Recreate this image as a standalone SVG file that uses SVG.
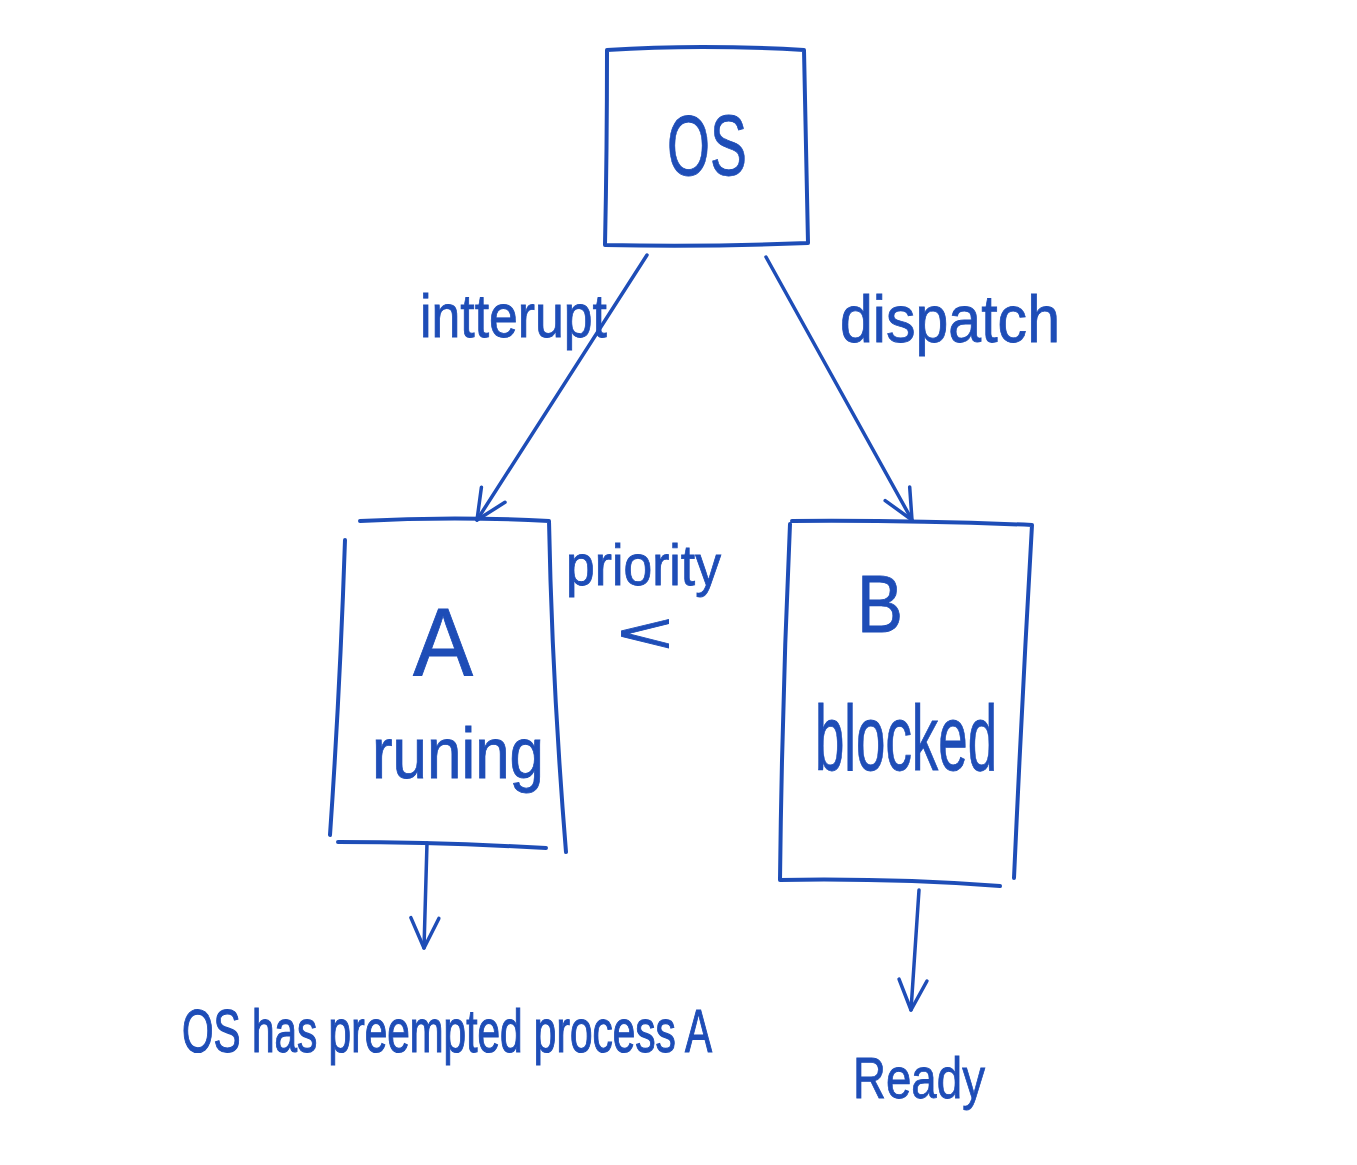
<svg xmlns="http://www.w3.org/2000/svg" width="1357" height="1165" viewBox="0 0 1357 1165">
<style>
.box{fill:none;stroke:#1E4DB7;stroke-width:4;stroke-linejoin:round;stroke-linecap:round}
.con{fill:none;stroke:#1E4DB7;stroke-width:3.5;stroke-linecap:round;stroke-linejoin:round}
.t{fill:#1E4DB7;stroke:#1E4DB7;stroke-width:0.8;font-family:"Liberation Sans Narrow","Liberation Sans",Arial,sans-serif}
</style>
<defs>
<marker id="ahb" viewBox="0 0 40 40" refX="36" refY="20" markerWidth="40" markerHeight="40" markerUnits="userSpaceOnUse" orient="auto">
<path d="M6,6 L36,20 L6,34" fill="none" stroke="#1E4DB7" stroke-width="3.5" stroke-linecap="round" stroke-linejoin="round"/>
</marker>
</defs>
<rect width="1357" height="1165" fill="#ffffff"/>
<g id="connectors">
<path class="con" d="M647,255 L477,520" marker-end="url(#ahb)"/>
<path class="con" d="M766,257 L912,520" marker-end="url(#ahb)"/>
<path class="con" d="M427,843 L424,948" marker-end="url(#ahb)"/>
<path class="con" d="M919,890 L911,1010" marker-end="url(#ahb)"/>
</g>
<g id="node-os">
<path class="box" d="M607,50 Q700,44 804,50 Q806,140 808,243 Q710,247 605,245 Q607,150 607,50 Z"/>
<text class="t" x="707" y="175" font-size="86" text-anchor="middle" textLength="80" lengthAdjust="spacingAndGlyphs">OS</text>
</g>
<g id="label-interrupt">
<text class="t" x="420" y="337" font-size="62" textLength="187" lengthAdjust="spacingAndGlyphs">intterupt</text>
</g>
<g id="label-dispatch">
<text class="t" x="840" y="342" font-size="66" textLength="220" lengthAdjust="spacingAndGlyphs">dispatch</text>
</g>
<g id="node-a">
<path class="box" d="M360,521 Q455,516 549,521 Q552,680 566,852 M546,848 Q440,842 338,842 M330,835 Q340,690 345,540"/>
<text class="t" x="443" y="675" font-size="96" text-anchor="middle" textLength="60" lengthAdjust="spacingAndGlyphs">A</text>
<text class="t" x="372" y="778" font-size="72" textLength="172" lengthAdjust="spacingAndGlyphs">runing</text>
</g>
<g id="label-priority">
<text class="t" x="566" y="585" font-size="58" textLength="155" lengthAdjust="spacingAndGlyphs">priority</text>
<text class="t" x="617" y="652" font-size="56" textLength="56" lengthAdjust="spacingAndGlyphs">&lt;</text>
</g>
<g id="node-b">
<path class="box" d="M792,521 Q910,520 1032,525 Q1022,700 1014,878 M1000,886 Q890,878 780,880 M780,880 Q782,700 790,524"/>
<text class="t" x="880" y="632" font-size="82" text-anchor="middle" textLength="46" lengthAdjust="spacingAndGlyphs">B</text>
<text class="t" x="815" y="770" font-size="92" textLength="182" lengthAdjust="spacingAndGlyphs">blocked</text>
</g>
<g id="label-preempted">
<text class="t" transform="translate(182,1052) scale(1,1.5)" x="0" y="0" font-size="41" textLength="530" lengthAdjust="spacingAndGlyphs" stroke-width="0.6">OS has preempted process A</text>
</g>
<g id="label-ready">
<text class="t" x="853" y="1098" font-size="58" textLength="132" lengthAdjust="spacingAndGlyphs">Ready</text>
</g>
</svg>
